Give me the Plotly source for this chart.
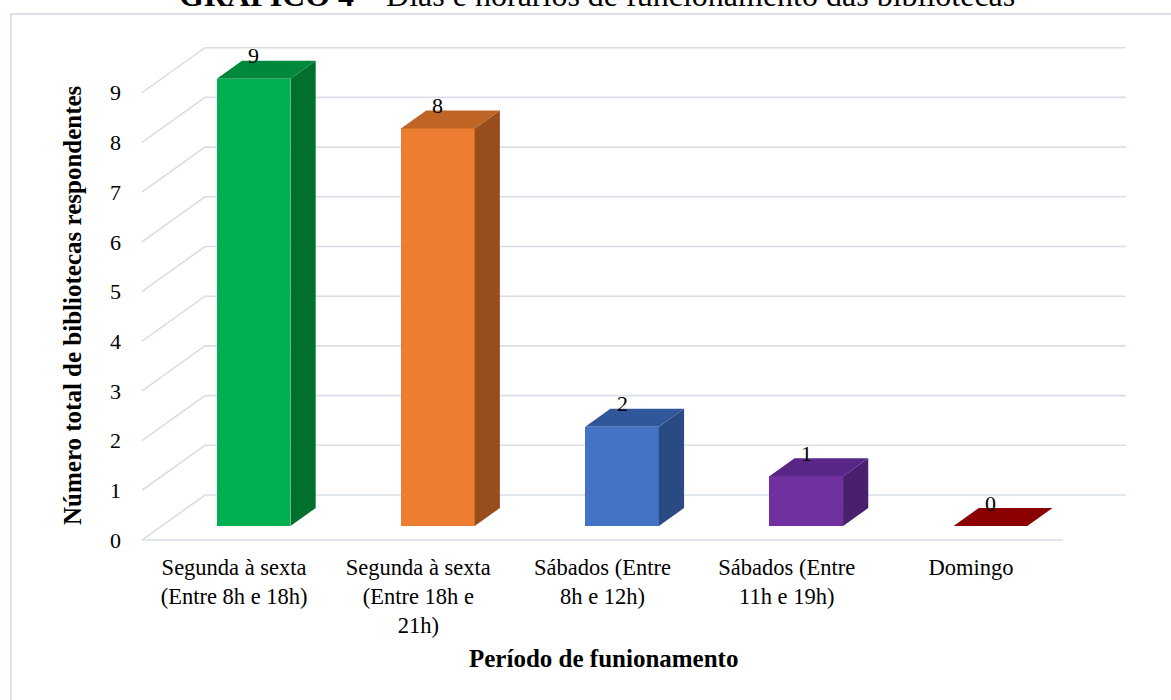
import plotly.graph_objects as go

# Data
categories = [
    "Segunda à sexta<br>(Entre 8h e 18h)",
    "Segunda à sexta<br>(Entre 18h e<br>21h)",
    "Sábados (Entre<br>8h e 12h)",
    "Sábados (Entre<br>11h e 19h)",
    "Domingo",
]
values = [9, 8, 2, 1, 0]
y_ticks = list(range(0, 10))

front_colors = ["#00B050", "#ED7D31", "#4472C4", "#7030A0", "#8B0000"]
top_colors = ["#00893D", "#BE6424", "#30579A", "#582686", "#8B0000"]
side_colors = ["#00702F", "#984D1C", "#2A4A84", "#48206E", "#6E0000"]

# Pseudo-3D projection settings
W, H = 1171, 700
L, R, T, B = 142, 1131, 36, 546        # plot area in pixels
PX_X, PX_Y = 184.2, 49.7               # pixels per category / per value unit
DX, DY = 63 / PX_X, 45 / PX_Y          # depth offset of the back wall
D0, D1 = 0.31, 0.71                    # bar front/back depth fraction
HALF = 0.2                             # half bar width (category units)
n = len(categories)

x_range = [0, (R - L) / PX_X]
y_range = [-(B - 540) / PX_Y, (540 - T) / PX_Y]


def px(xp):
    return (xp - L) / (R - L)


def py(yp):
    return (B - yp) / (B - T)


GRID = "#D9DEE7"
FONT = "Liberation Serif"

fig = go.Figure()

# Side wall and back wall gridlines (drawn beneath the bars)
for t in y_ticks:
    fig.add_shape(
        type="path", xref="x", yref="y", layer="below",
        path=f"M 0 {t} L {DX} {t + DY} L {n + DX} {t + DY}",
        line=dict(color=GRID, width=1.6))
# Floor front edge
fig.add_shape(
    type="line", xref="x", yref="y", layer="below",
    x0=0, y0=0, x1=n, y1=0, line=dict(color=GRID, width=1.6))

# Bars: front face as a bar, side and top faces as polygons
for i, v in enumerate(values):
    c = i + 0.5
    xl = c - HALF + D0 * DX
    xr = c + HALF + D0 * DX
    y0 = D0 * DY
    y1 = v + D0 * DY
    ddx = (D1 - D0) * DX
    ddy = (D1 - D0) * DY
    if v > 0:
        fig.add_trace(go.Bar(
            x=[c + D0 * DX], y=[v], base=[y0], width=[2 * HALF],
            marker=dict(color=front_colors[i], line=dict(width=0)),
            hoverinfo="skip", showlegend=False))
        # side face
        fig.add_trace(go.Scatter(
            x=[xr, xr + ddx, xr + ddx, xr, xr], y=[y0, y0 + ddy, y1 + ddy, y1, y0],
            mode="lines", fill="toself", fillcolor=side_colors[i],
            line=dict(width=0, color=side_colors[i]), hoverinfo="skip", showlegend=False))
    # top face
    fig.add_trace(go.Scatter(
        x=[xl, xr, xr + ddx, xl + ddx, xl], y=[y1, y1, y1 + ddy, y1 + ddy, y1],
        mode="lines", fill="toself", fillcolor=top_colors[i],
        line=dict(width=0, color=top_colors[i]), hoverinfo="skip", showlegend=False))

# Value labels
for i, v in enumerate(values):
    fig.add_annotation(
        x=i + 0.5 + D0 * DX, y=v + D0 * DY, text=str(v), showarrow=False,
        xanchor="center", yanchor="middle", yshift=23,
        font=dict(family=FONT, size=22, color="#000000"))

# Axis titles
fig.add_annotation(
    xref="paper", yref="paper", x=px(72), y=py(305),
    text="<b>Número total de bibliotecas respondentes</b>", textangle=-90,
    showarrow=False, xanchor="center", yanchor="middle",
    font=dict(family=FONT, size=25, color="#000000"))
fig.add_annotation(
    xref="paper", yref="paper", x=px(603), y=py(658),
    text="<b>Período de funionamento</b>",
    showarrow=False, xanchor="center", yanchor="middle",
    font=dict(family=FONT, size=25, color="#000000"))

# Chart title (partly above the page edge)
fig.add_annotation(
    xref="paper", yref="paper", x=px(597), y=py(15),
    text="<b>GRÁFICO 4</b> – Dias e horários de funcionamento das bibliotecas",
    showarrow=False, xanchor="center", yanchor="bottom",
    font=dict(family=FONT, size=32, color="#000000"))

# Chart border
fig.add_shape(
    type="rect", xref="paper", yref="paper",
    x0=px(11), x1=px(1180), y0=py(710), y1=py(14),
    line=dict(color="#DCE1EA", width=2), fillcolor="rgba(0,0,0,0)", layer="below")

fig.update_layout(
    width=W, height=H,
    margin=dict(l=L, r=W - R, t=T, b=H - B),
    paper_bgcolor="white", plot_bgcolor="white",
    barmode="overlay", bargap=0,
    xaxis=dict(
        range=x_range, tickmode="array",
        tickvals=[i + 0.5 for i in range(n)], ticktext=categories,
        showgrid=False, zeroline=False, showline=False, ticks="",
        tickfont=dict(family=FONT, size=22.5, color="#000000"),
        ticklabelstandoff=5, fixedrange=True),
    yaxis=dict(
        range=y_range, tickmode="array", tickvals=y_ticks,
        showgrid=False, zeroline=False, showline=False, ticks="",
        tickfont=dict(family=FONT, size=22, color="#000000"),
        ticklabelstandoff=20, fixedrange=True),
)

fig.write_html("out.html")
